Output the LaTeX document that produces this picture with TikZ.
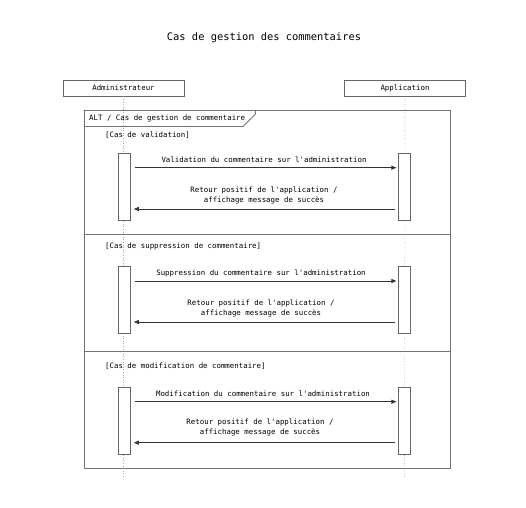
\documentclass[tikz,border=0pt]{standalone}
\usepackage{fontspec}
\setmonofont{DejaVu Sans Mono}
\usetikzlibrary{arrows.meta}
\begin{document}
\begin{tikzpicture}[x=1pt,y=-1pt,
  txt/.style={font=\ttfamily\fontsize{7.4}{10}\selectfont, text=black, inner sep=0pt},
  participant/.style={draw=black!60, line width=0.7pt, fill=white, minimum width=121pt, minimum height=16pt, txt},
  lifeline/.style={draw=black!35, dotted, line width=0.6pt},
  frame/.style={draw=black!55, line width=0.8pt},
  actbox/.style={draw=black!60, line width=0.6pt, fill=white},
  msg/.style={draw=black!80, line width=0.7pt, -{Triangle[length=5pt,width=4pt]}},
  lbl/.style={txt, align=center}]
\useasboundingbox (0,0) rectangle (526,507);
\node[font=\ttfamily\fontsize{10.4}{12}\selectfont, text=black] (title) at (264,38) {Cas de gestion des commentaires};
\node[participant] (adm) at (123.5,88) {Administrateur};
\node[participant] (app) at (405,88) {Application};
\coordinate (admend) at (123.5,478);
\coordinate (append) at (404.5,478);
\draw[lifeline] (adm.south) -- (admend);
\draw[lifeline] (app.south) -- (append);
% frame
\draw[frame] (84,110) rectangle (450,468);
\draw[frame] (84,126.5) -- (243,126.5) -- (255.5,114) -- (255.5,110);
\node[txt, anchor=west] (altlbl) at (89,118) {ALT / Cas de gestion de commentaire};
\draw[frame] (84,234.5) -- (450,234.5);
\draw[frame] (84,351) -- (450,351);
\node[txt, anchor=west] (g1) at (105,135) {[Cas de validation]};
\node[txt, anchor=west] (g2) at (105,246) {[Cas de suppression de commentaire]};
\node[txt, anchor=west] (g3) at (105,366) {[Cas de modification de commentaire]};
% section 1
\node[actbox, minimum width=12pt, minimum height=67pt, inner sep=0pt] (a1) at (124.5,186.3) {};
\node[actbox, minimum width=12pt, minimum height=67pt, inner sep=0pt] (b1) at (404.7,186.3) {};
\draw[msg] (a1.east |- 0,167.7) ++(4,0) coordinate (s1) -- ([xshift=-2pt]b1.west |- s1);
\node[lbl] (m1) at (264,159.5) {Validation du commentaire sur l'administration};
\draw[msg] ([xshift=-3pt]b1.west |- 0,209) coordinate (r1) -- ([xshift=3pt]a1.east |- r1);
\node[lbl] (m1r) at (264,195.5) {Retour positif de l'application /\\affichage message de succès};
% section 2
\node[actbox, minimum width=12pt, minimum height=67pt, inner sep=0pt] (a2) at (124.5,299.5) {};
\node[actbox, minimum width=12pt, minimum height=67pt, inner sep=0pt] (b2) at (404.7,299.5) {};
\draw[msg] (a2.east |- 0,281) ++(4,0) coordinate (s2) -- ([xshift=-2pt]b2.west |- s2);
\node[lbl] (m2) at (261,273) {Suppression du commentaire sur l'administration};
\draw[msg] ([xshift=-3pt]b2.west |- 0,322) coordinate (r2) -- ([xshift=3pt]a2.east |- r2);
\node[lbl] (m2r) at (261,308.5) {Retour positif de l'application /\\affichage message de succès};
% section 3
\node[actbox, minimum width=12pt, minimum height=67pt, inner sep=0pt] (a3) at (124.5,420.5) {};
\node[actbox, minimum width=12pt, minimum height=67pt, inner sep=0pt] (b3) at (404.7,420.5) {};
\draw[msg] (a3.east |- 0,401.7) ++(4,0) coordinate (s3) -- ([xshift=-2pt]b3.west |- s3);
\node[lbl] (m3) at (263,393.5) {Modification du commentaire sur l'administration};
\draw[msg] ([xshift=-3pt]b3.west |- 0,442.7) coordinate (r3) -- ([xshift=3pt]a3.east |- r3);
\node[lbl] (m3r) at (260,427.7) {Retour positif de l'application /\\affichage message de succès};
\end{tikzpicture}
\end{document}
